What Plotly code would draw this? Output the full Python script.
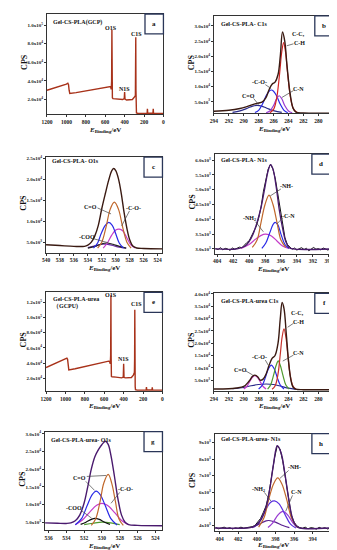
import plotly.graph_objects as go

W, H = 337, 550
SERIF = "Liberation Serif"

# ------------------------------------------------------------------ data
# (a) survey Gel-CS-PLA (GCP)
a_x = [1200, 1100, 1000, 985, 978, 972, 965, 900, 800, 700, 600, 555, 545, 538, 534, 531, 529, 526, 520,
       480, 420, 404, 400, 396, 380, 320, 300, 292, 289, 287, 285, 283, 281, 278, 260, 200, 168, 165, 162,
       108, 105, 102, 50, 0]
a_y = [30000, 33000, 36500, 37500, 36000, 30000, 26500, 27500, 29500, 31500, 33500, 34500, 34000, 31000,
       40000, 95000, 40000, 22000, 21000, 20500, 20000, 21000, 28000, 20500, 19500, 20000, 22000, 23500,
       25000, 40000, 87000, 30000, 8000, 5500, 5000, 5000, 5200, 10000, 5200, 5200, 10000, 5200, 5000, 5000]

# (b) C1s Gel-CS-PLA
b_env_x = [294, 292, 290.5, 289.5, 288.5, 288, 287.5, 287, 286.6, 286.2, 285.8, 285.4, 285.1, 284.8, 284.5,
           284.2, 283.8, 283.4, 283, 282, 278]
b_env_y = [1900, 2200, 2800, 3500, 4300, 4600, 5000, 6500, 9000, 10800, 11500, 14000, 20000, 28000, 25000,
           17000, 8000, 3000, 1600, 1300, 1250]
b_cc_x = [286.5, 286, 285.6, 285.2, 284.9, 284.65, 284.4, 284.1, 283.7, 283.3, 282.8]
b_cc_y = [1400, 2500, 6000, 14000, 21500, 24500, 21500, 14000, 6000, 2500, 1400]
b_cn_x = [287, 286.5, 286, 285.6, 285.25, 284.9, 284.5, 284, 283.5]
b_cn_y = [1400, 2000, 3800, 6000, 7000, 6000, 3800, 2000, 1400]
b_co_x = [288.5, 288, 287.5, 287, 286.6, 286.3, 286, 285.6, 285.1, 284.6, 284.1]
b_co_y = [1500, 2200, 4200, 7000, 8500, 8900, 8500, 7000, 4200, 2200, 1400]
b_c2o_x = [291.5, 290.5, 289.5, 288.8, 288.2, 287.6, 286.9, 285.9, 284.9]
b_c2o_y = [1500, 2000, 2900, 3600, 3800, 3600, 2900, 2000, 1500]

# (c) O1s Gel-CS-PLA
c_env_x = [540, 538, 536, 534.5, 534, 533.5, 533, 532.5, 532, 531.5, 531, 530.6, 530.3, 530, 529.6, 529.2,
           528.8, 528.4, 528, 527.5, 527, 526, 523.3]
c_env_y = [4400, 4200, 4000, 4000, 4300, 5000, 6500, 9000, 13000, 16500, 19800, 21900, 22500, 22000, 20000,
           16500, 12000, 8300, 5600, 4000, 3600, 3500, 3400]
c_blue_x = [533.2, 532.6, 532.1, 531.5, 531.0, 530.5, 530, 529.5, 528.9]
c_blue_y = [3600, 4800, 7000, 9000, 9700, 9000, 7000, 4800, 3600]
c_brown_x = [532.6, 532, 531.4, 530.8, 530.2, 529.6, 529, 528.4, 527.8]
c_brown_y = [3600, 5000, 8500, 12800, 14500, 12800, 8500, 5000, 3600]
c_mag_x = [531.8, 531.2, 530.6, 530, 529.5, 529, 528.4, 527.8, 527.2]
c_mag_y = [3600, 4800, 6600, 7900, 8100, 7700, 6000, 4300, 3600]
c_coo_x = [534, 533, 532.2, 531.3, 530.4, 529.5, 528.5]
c_coo_y = [3600, 4000, 4500, 4800, 4500, 4000, 3600]
c_pur_x = [534, 533, 532, 531.5, 530.6, 529.5, 528.5]
c_pur_y = [3700, 4100, 4500, 4550, 4300, 3800, 3600]

# (d) N1s Gel-CS-PLA
d_raw_x = [404.2, 403.9, 403.6, 403.3, 403.0, 402.7, 402.4, 402.1, 401.8, 401.5, 401.2, 400.9, 400.6, 400.3,
           400.0, 399.7, 399.4, 399.1, 398.8, 398.5, 398.2, 397.9, 397.6, 397.3, 397.0, 396.7, 396.4, 396.1,
           395.8, 395.5, 395.2, 394.9, 394.6, 394.3, 394.0, 393.7, 393.4, 393.1, 392.8, 392.5, 392.2, 391.9,
           391.6, 391.3, 391.0, 390.7, 390.4, 390.1, 389.8]
d_raw_y = [3010, 2980, 3040, 2970, 3020, 3000, 2950, 3030, 2990, 3020, 3060, 3040, 3140, 3210, 3270, 3420,
           3560, 3760, 4040, 4420, 4950, 5380, 5700, 5860, 5690, 5360, 4850, 4300, 3760, 3380, 3150, 3050,
           2990, 3030, 2960, 3010, 3040, 2980, 3020, 2940, 3000, 3050, 2990, 3010, 2970, 3030, 3000, 2960, 3020]
d_env_x = [404.3, 401.5, 400.5, 400, 399.5, 399, 398.5, 398, 397.6, 397.3, 397, 396.6, 396.2, 395.8, 395.4,
           395, 394.5, 389.8]
d_env_y = [3000, 3000, 3100, 3250, 3500, 3900, 4400, 5100, 5650, 5850, 5700, 5100, 4300, 3700, 3250, 3050,
           3000, 3000]
d_nh_x = [399.6, 399, 398.5, 398, 397.5, 397, 396.5, 396, 395.4]
d_nh_y = [3050, 3300, 3900, 4500, 4820, 4500, 3900, 3300, 3050]
d_cn_x = [398.4, 397.9, 397.4, 397, 396.74, 396.4, 396, 395.5, 395]
d_cn_y = [3020, 3200, 3550, 3820, 3900, 3820, 3500, 3150, 3020]
d_nh2_x = [401, 400, 399, 398.2, 397.9, 397.2, 396.5, 395.8, 395]
d_nh2_y = [3020, 3150, 3370, 3490, 3500, 3440, 3270, 3100, 3020]

# (e) survey Gel-CS-PLA-urea (GCPU)
e_x = a_x
e_y = [34000, 40000, 45000, 46500, 45000, 36000, 31000, 32500, 35500, 38000, 41000, 42500, 42000, 39000,
       50000, 129000, 50000, 22500, 22000, 21500, 20500, 21500, 39000, 21000, 20500, 21000, 24000, 27000,
       28500, 45000, 110000, 35000, 9000, 5000, 4500, 4500, 4700, 8500, 4700, 4700, 8000, 4700, 4500, 4500]

# (f) C1s Gel-CS-PLA-urea
f_env_x = [294, 292, 291, 290, 289.3, 288.8, 288.5, 288.1, 287.8, 287.4, 287, 286.6, 286.2, 285.8, 285.4,
           285.1, 284.85, 284.6, 284.3, 284, 283.7, 283.4, 283, 282, 278]
f_env_y = [1400, 1500, 1800, 2400, 4500, 6600, 7000, 6300, 5000, 5400, 7500, 11000, 13800, 15000, 20000,
           30000, 36500, 34000, 24000, 13000, 5500, 2200, 1300, 1100, 1100]
f_cc_x = [286.2, 285.8, 285.4, 285.1, 284.85, 284.6, 284.35, 284.1, 283.8, 283.4, 283]
f_cc_y = [1300, 2600, 7500, 15500, 22500, 25800, 22500, 15500, 7500, 2600, 1300]
f_cn_x = [286.8, 286.4, 286, 285.65, 285.37, 285.1, 284.75, 284.35, 283.9]
f_cn_y = [1300, 3000, 7000, 11000, 12800, 11000, 7000, 3000, 1300]
f_co_x = [288, 287.5, 287.1, 286.7, 286.3, 285.9, 285.5, 285.1, 284.6]
f_co_y = [1400, 3000, 6000, 9500, 11100, 9500, 6000, 3000, 1400]
f_c2o_x = [290, 289.6, 289.2, 288.8, 288.5, 288.2, 287.8, 287.4, 287]
f_c2o_y = [1400, 2400, 4400, 6200, 6800, 6200, 4400, 2400, 1400]
f_bg_x = [291.5, 290, 289, 288, 287, 286, 285, 284, 283]
f_bg_y = [1500, 2000, 2700, 3200, 3400, 3200, 2500, 1700, 1200]

# (g) O1s Gel-CS-PLA-urea
g_env_x = [536.4, 535, 534, 533.5, 533, 532.5, 532, 531.6, 531.2, 530.8, 530.4, 530, 529.6, 529.3, 529,
           528.6, 528.2, 527.8, 527.4, 527, 526, 523.2]
g_env_y = [4800, 4700, 4650, 4800, 5400, 7000, 10500, 15000, 20000, 23500, 25500, 27000, 27900, 27000,
           24000, 18000, 11500, 7000, 5000, 4300, 4100, 4000]
g_brown_x = [531.2, 530.7, 530.2, 529.8, 529.3, 528.9, 528.5, 528.1, 527.6]
g_brown_y = [4100, 6000, 11000, 16000, 18500, 16000, 11000, 6000, 4100]
g_blue_x = [533, 532.3, 531.7, 531.1, 530.65, 530.2, 529.6, 529, 528.3]
g_blue_y = [4300, 6000, 9500, 12800, 13800, 12800, 9500, 6000, 4200]
g_mag_x = [533, 532.2, 531.4, 530.6, 530, 529.4, 528.6, 527.8, 527]
g_mag_y = [4300, 5600, 7800, 9800, 10300, 9800, 7800, 5500, 4300]
g_coo_x = [532.4, 531.8, 531.2, 530.8, 530.3, 529.7, 529.1]
g_coo_y = [4400, 5000, 5800, 6100, 5800, 5000, 4400]
g_grn_x = [532, 531, 530, 529, 528]
g_grn_y = [4300, 4700, 5000, 4800, 4300]

# (h) N1s Gel-CS-PLA-urea
h_raw_x = [404.4, 404.1, 403.8, 403.5, 403.2, 402.9, 402.6, 402.3, 402.0, 401.7, 401.4, 401.1, 400.8, 400.5,
           400.2, 399.9, 399.6, 399.3, 399.0, 398.7, 398.4, 398.1, 397.8, 397.5, 397.2, 396.9, 396.6, 396.3,
           396.0, 395.7, 395.4, 395.1, 394.8, 394.5, 394.2, 393.9, 393.6, 393.3, 393.0, 392.7, 392.4, 392.1]
h_raw_y = [3880, 3800, 3850, 3900, 3820, 3870, 3790, 3860, 3830, 3900, 3840, 3870, 3880, 3930, 4000, 4180,
           4420, 4780, 5180, 5900, 6950, 8050, 8800, 8600, 7850, 6700, 5500, 4650, 4200, 3980, 3880, 3830,
           3900, 3800, 3870, 3850, 3780, 3890, 3820, 3870, 3790, 3850]
h_env_x = [404.5, 401, 400.5, 400, 399.5, 399, 398.6, 398.2, 397.8, 397.4, 397, 396.6, 396.2, 395.8, 395.4,
           392.1]
h_env_y = [3850, 3850, 3900, 4050, 4400, 5100, 6200, 7700, 8800, 8400, 7200, 5700, 4500, 4000, 3850, 3850]
h_nh_x = [399.8, 399.2, 398.7, 398.2, 397.75, 397.3, 396.8, 396.3, 395.7]
h_nh_y = [3900, 4500, 5600, 6500, 6870, 6500, 5600, 4500, 3900]
h_nh2_x = [400.3, 399.6, 399, 398.5, 398.1, 397.6, 397, 396.4, 395.8]
h_nh2_y = [3900, 4300, 5000, 5400, 5480, 5300, 4700, 4100, 3850]
h_cn_x = [398.8, 398.3, 397.7, 397.2, 396.7, 396.1, 395.6]
h_cn_y = [3880, 4150, 4650, 4850, 4650, 4150, 3880]
h_sm_x = [400.5, 399.7, 399, 398.7, 398, 397.2, 396.5]
h_sm_y = [3870, 4100, 4280, 4300, 4200, 4000, 3870]

# tick values
survey_xt = [1200, 1000, 800, 600, 400, 200, 0]
c1s_xt = [294, 292, 290, 288, 286, 284, 282, 280, 278]
c_xt = [540, 538, 536, 534, 532, 530, 528, 526, 524]
d_xt = [404, 402, 400, 398, 396, 394, 392, 390]
g_xt = [536, 534, 532, 530, 528, 526, 524]
h_xt = [404, 402, 400, 398, 396, 394, 392]
a_yt = [20000, 40000, 60000, 80000, 100000]
b_yt = [5000, 10000, 15000, 20000, 25000, 30000]
c_yt = [5000, 10000, 15000, 20000, 25000]
d_yt = [3000, 3500, 4000, 4500, 5000, 5500, 6000]
e_yt = [20000, 40000, 60000, 80000, 100000, 120000]
f_yt = [5000, 10000, 15000, 20000, 25000, 30000, 35000, 40000]
g_yt = [5000, 10000, 15000, 20000, 25000, 30000]
h_yt = [4000, 5000, 6000, 7000, 8000, 9000]


def sci(v, dec=True):
    e = 0
    m = float(v)
    while m >= 10:
        m /= 10
        e += 1
    mt = f"{m:.1f}" if dec else f"{m:.0f}"
    return f"{mt}x10<sup>{e}</sup>"


# ------------------------------------------------------------------ layout
panels = [
    # key, frame (l, r, t, b) px, x range, y range, xticks, yticks, decimals
    ("a", (34, 154, 3, 104), [1200, 0], [4000, 112000], survey_xt, a_yt, True),
    ("b", (206, 329, 5, 103), [294, 278], [1170, 33300], c1s_xt, b_yt, True),
    ("c", (33, 153, 147, 243), [540, 523.3], [2500, 25200], c_xt, c_yt, True),
    ("d", (207, 326, 144, 244), [404.3, 389.8], [2840, 6200], d_xt, d_yt, True),
    ("e", (33, 153, 283, 382), [1200, 0], [3400, 132700], survey_xt, e_yt, True),
    ("f", (206, 329, 284, 382), [294, 278], [600, 40200], c1s_xt, f_yt, True),
    ("g", (32, 153, 423, 522), [536.4, 523.2], [2750, 30600], g_xt, g_yt, True),
    ("h", (207, 326, 425, 523), [404.5, 392.1], [3660, 9530], h_xt, h_yt, False),
]

fig = go.Figure()
idx = {}
lay = {}
for i, (key, (l, r, t, b), xr, yr, xt, yt, dec) in enumerate(panels, start=1):
    idx[key] = i
    sx = "" if i == 1 else str(i)
    lay["xaxis" + sx] = dict(
        domain=[l / W, r / W], range=xr, anchor="y" + sx, tickvals=xt,
        ticktext=["<b>" + str(v) + "</b>" for v in xt],
        showline=True, mirror=True, linecolor="#333", linewidth=1, ticks="outside", ticklen=2,
        tickwidth=0.8, tickcolor="#333", showgrid=False, zeroline=False, tickangle=0,
        tickfont=dict(family=SERIF, size=5.5, color="#222"))
    lay["yaxis" + sx] = dict(
        domain=[1 - b / H, 1 - t / H], range=yr, anchor="x" + sx, tickvals=yt,
        ticktext=["<b>" + sci(v, dec) + "</b>" for v in yt],
        showline=True, mirror=True, linecolor="#333", linewidth=1, ticks="outside", ticklen=2,
        tickwidth=0.8, tickcolor="#333", showgrid=False, zeroline=False,
        tickfont=dict(family=SERIF, size=5, color="#222"))


def add(key, xs, ys, color, width=1.2, spline=True):
    i = idx[key]
    sx = "" if i == 1 else str(i)
    fig.add_trace(go.Scatter(x=xs, y=ys, mode="lines", xaxis="x" + sx, yaxis="y" + sx,
                             line=dict(color=color, width=width, shape="spline" if spline else "linear",
                                       smoothing=1.0),
                             hoverinfo="skip", showlegend=False))


ENV_BROWN = "#3a1a12"
ENV_PURPLE = "#4a1a6e"
RED = "#d42424"
BLUE = "#2a2ae6"
NAVY = "#2a2a8a"
VIOLET = "#9a3cd2"
MAGENTA = "#c43cc8"
ORANGE = "#c0682c"
GREEN = "#4f9a2e"
SURVEY = "#a8321a"

# a
add("a", a_x, a_y, SURVEY, 1.4, spline=False)
# b
add("b", b_c2o_x, b_c2o_y, NAVY)
add("b", b_co_x, b_co_y, BLUE)
add("b", b_cn_x, b_cn_y, VIOLET)
add("b", b_cc_x, b_cc_y, RED)
add("b", b_env_x, b_env_y, ENV_BROWN, 1.4)
# c
add("c", c_pur_x, c_pur_y, "#6a2aa8")
add("c", c_coo_x, c_coo_y, "#222222")
add("c", c_mag_x, c_mag_y, MAGENTA)
add("c", c_blue_x, c_blue_y, BLUE)
add("c", c_brown_x, c_brown_y, ORANGE)
add("c", c_env_x, c_env_y, ENV_BROWN, 1.4)
# d
add("d", d_raw_x, d_raw_y, "#111111", 1.0, spline=False)
add("d", d_nh2_x, d_nh2_y, MAGENTA)
add("d", d_cn_x, d_cn_y, BLUE)
add("d", d_nh_x, d_nh_y, ORANGE)
add("d", d_env_x, d_env_y, ENV_PURPLE, 1.3)
# e
add("e", e_x, e_y, SURVEY, 1.4, spline=False)
# f
add("f", f_bg_x, f_bg_y, NAVY)
add("f", f_c2o_x, f_c2o_y, MAGENTA)
add("f", f_co_x, f_co_y, BLUE)
add("f", f_cn_x, f_cn_y, GREEN)
add("f", f_cc_x, f_cc_y, "#c8302a")
add("f", f_env_x, f_env_y, ENV_BROWN, 1.4)
# g
add("g", g_grn_x, g_grn_y, GREEN)
add("g", g_coo_x, g_coo_y, "#111111")
add("g", g_mag_x, g_mag_y, MAGENTA)
add("g", g_blue_x, g_blue_y, BLUE)
add("g", g_brown_x, g_brown_y, ORANGE)
add("g", g_env_x, g_env_y, ENV_PURPLE, 1.4)
# h
add("h", h_raw_x, h_raw_y, "#111111", 1.0, spline=False)
add("h", h_sm_x, h_sm_y, "#5a2090")
add("h", h_cn_x, h_cn_y, VIOLET)
add("h", h_nh2_x, h_nh2_y, "#5a30e0")
add("h", h_nh_x, h_nh_y, ORANGE)
add("h", h_env_x, h_env_y, ENV_PURPLE, 1.4)


def X(px):
    return px / W


def Y(py):
    return 1 - py / H


def ann(text, x, y, size=6, anchor="center", angle=0):
    fig.add_annotation(text="<b>" + text + "</b>", x=X(x), y=Y(y), xref="paper", yref="paper",
                       showarrow=False, xanchor=anchor, yanchor="middle", textangle=angle,
                       font=dict(family=SERIF, size=size, color="#111"))


def leader(x0, y0, x1, y1):
    fig.add_shape(type="line", x0=X(x0), y0=Y(y0), x1=X(x1), y1=Y(y1), xref="paper", yref="paper",
                  line=dict(color="#444", width=0.7))


# frame-related texts (axis titles, panel letters)
for key, (l, r, t, b), *_ in panels:
    fig.add_shape(type="rect", x0=X(r - 19), x1=X(r), y0=Y(t + 20), y1=Y(t), xref="paper", yref="paper",
                  line=dict(color="#2a3658", width=1.3), fillcolor="rgba(0,0,0,0)")
    ann(key, r - 9.5, t + 10, 7)
    ann("CPS", l - 23, (t + b) / 2 - 2, 8, angle=-90)
    ann("<i>E</i><sub>Binding</sub>/eV", (l + r) / 2, b + (14 if key == "h" else 15.5), 7)

# panel texts
ann("Gel-CS-PLA(GCP)", 38, 12, 6, "left")
ann("O1S", 100, 17, 6)
ann("C1S", 126, 23, 6)
ann("N1S", 114, 78, 6)

ann("Gel-CS-PLA- C1s", 211, 13, 6, "left")
ann("C-C,", 293, 23, 6)
ann("C-H", 294, 32, 6)
ann("-C-O-", 253, 71, 6)
ann("C=O", 242, 85, 6)
ann("C-N", 293, 78, 6)
leader(288, 33, 281, 35)
leader(259, 74, 265, 78)
leader(247, 88, 252, 94)
leader(288, 80, 276, 87)

ann("Gel-CS-PLA- O1s", 37, 151, 6, "left")
ann("C=O", 79, 197, 6)
ann("-C-O-", 123, 198, 6)
ann("-COO", 75, 227, 6)
leader(86, 198, 100, 204)
leader(119, 201, 111, 216)
leader(82, 229, 97, 233)

ann("Gel-CS-PLA- N1s", 211, 150, 6, "left")
ann("-NH-", 281, 176, 6)
ann("-C-N", 283, 206, 6)
ann("-NH<sub>2</sub>", 243, 209, 6)
leader(275, 179, 264, 186)
leader(277, 208, 271, 214)
leader(249, 212, 257, 222)

ann("Gel-CS-PLA-urea", 38, 290, 6, "left")
ann("（GCPU)", 38, 297, 6, "left")
ann("O1S", 100, 286, 6)
ann("C1S", 126, 295, 6)
ann("N1S", 113, 350, 6)

ann("Gel-CS-PLA-urea C1s", 211, 292, 6, "left")
ann("C-C,", 292, 304, 6)
ann("C-H", 293, 313, 6)
ann("C-N", 293, 344, 6)
ann("-C-O-", 253, 348, 6)
ann("C=O", 233, 361, 6)
leader(288, 314, 282, 318)
leader(288, 346, 277, 352)
leader(259, 351, 262, 356)
leader(239, 362, 246, 366)

ann("Gel-CS-PLA-urea- O1s", 36, 431, 6, "left")
ann("C=O", 68, 470, 6)
ann("-C-O-", 115, 481, 6)
ann("-COO", 62, 500, 6)
leader(75, 468, 95, 467)
leader(74, 473, 83, 482)
leader(109, 484, 100, 495)
leader(69, 502, 80, 510)

ann("Gel-CS-PLA-urea- N1s", 211, 430, 6, "left")
ann("-NH-", 289, 459, 6)
ann("-NH<sub>2</sub>", 252, 481, 6)
ann("C-N", 291, 484, 6)
leader(283, 462, 274, 470)
leader(258, 484, 265, 493)
leader(287, 487, 280, 503)

fig.update_layout(width=W, height=H, autosize=False, margin=dict(l=0, r=0, t=0, b=0),
                  paper_bgcolor="white", plot_bgcolor="white", showlegend=False, **lay)

fig.write_html("out.html")
